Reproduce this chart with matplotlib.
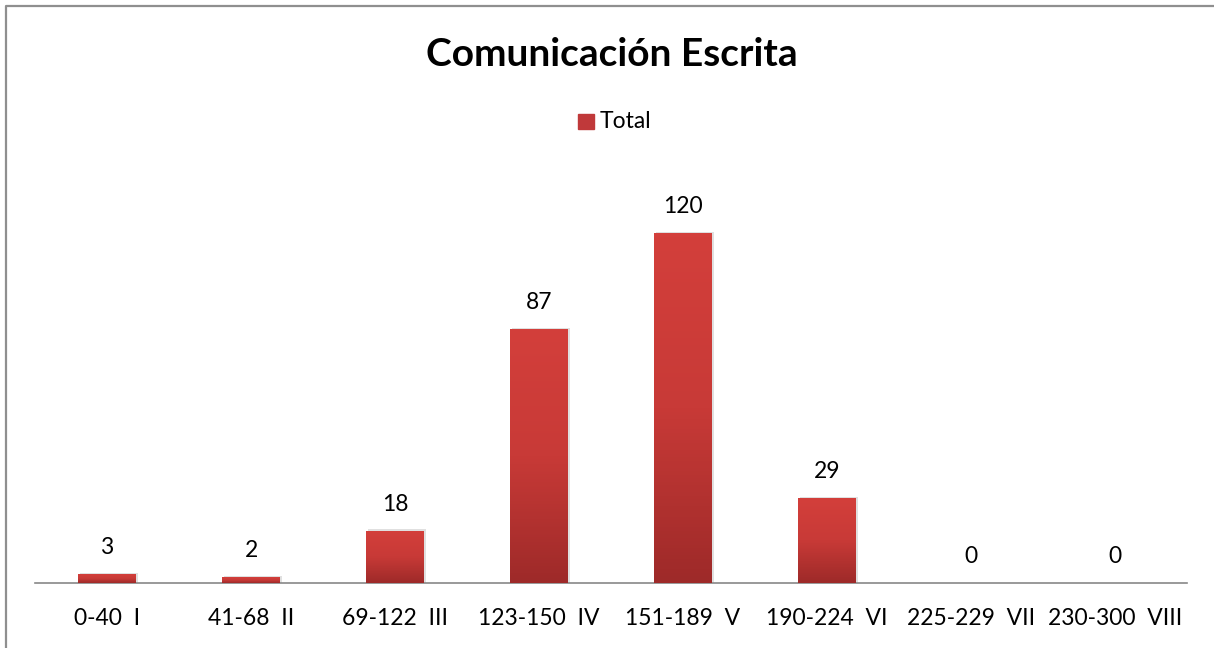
import numpy as np
import matplotlib.pyplot as plt
from matplotlib.colors import LinearSegmentedColormap
from matplotlib.patches import Rectangle
from matplotlib.lines import Line2D

# Datos
categorias = ['0-40  I', '41-68  II', '69-122  III', '123-150  IV',
              '151-189  V', '190-224  VI', '225-229  VII', '230-300  VIII']
totales = [3, 2, 18, 87, 120, 29, 0, 0]

plt.rcParams['font.family'] = ['Lato', 'DejaVu Sans']

fig = plt.figure(figsize=(12.14, 6.48), dpi=100)
ax = fig.add_axes([35 / 1214, 65 / 648, 1152 / 1214, 408 / 648])

# borde del grafico (solo arriba e izquierda, el resto queda recortado)
fig.lines.append(Line2D([6 / 1214, 6 / 1214, 1], [0, 1 - 6 / 648, 1 - 6 / 648],
                        transform=fig.transFigure, color='#8f8f8f', linewidth=1.6))

x = np.arange(len(categorias))
ancho = 0.4
grad = LinearSegmentedColormap.from_list('rojo', ['#9e2a29', '#c83a37', '#d33f3b'])

bars = ax.bar(x, totales, width=ancho, color='#c83a37', zorder=2)
for b in bars:
    h = b.get_height()
    if h <= 0:
        continue
    x0 = b.get_x()
    # sombra
    ax.add_patch(Rectangle((x0 + 0.012, 0), ancho, h + 0.4, color='#000000',
                           alpha=0.12, zorder=1, linewidth=0))
    im = ax.imshow(np.linspace(0, 1, 100).reshape(-1, 1), cmap=grad, origin='lower',
                   extent=[x0, x0 + ancho, 0, h], aspect='auto', zorder=3)
    im.set_clip_path(b)

for xi, v in zip(x, totales):
    ax.text(xi, v + 5.5, str(v), ha='center', va='bottom', fontsize=16.5, color='black')

ax.set_xlim(-0.5, len(categorias) - 0.5)
ax.set_ylim(0, 140)
ax.set_xticks(x)
ax.set_xticklabels(categorias, fontsize=16.5)
ax.tick_params(axis='x', length=0, pad=18)
ax.set_yticks([])
for s in ['top', 'right', 'left']:
    ax.spines[s].set_visible(False)
ax.spines['bottom'].set_color('#888888')
ax.spines['bottom'].set_linewidth(1.2)

fig.text(612 / 1214, 1 - 54 / 648, 'Comunicación Escrita', ha='center', va='center',
         fontsize=28, fontweight='bold')

# leyenda
fig.patches.append(Rectangle((578 / 1214, 1 - 129 / 648), 16 / 1214, 15 / 648,
                             transform=fig.transFigure, color='#c0393a'))
fig.text(600 / 1214, 1 - 121 / 648, 'Total', ha='left', va='center', fontsize=16.5)

fig.savefig('out.png', dpi=100)
